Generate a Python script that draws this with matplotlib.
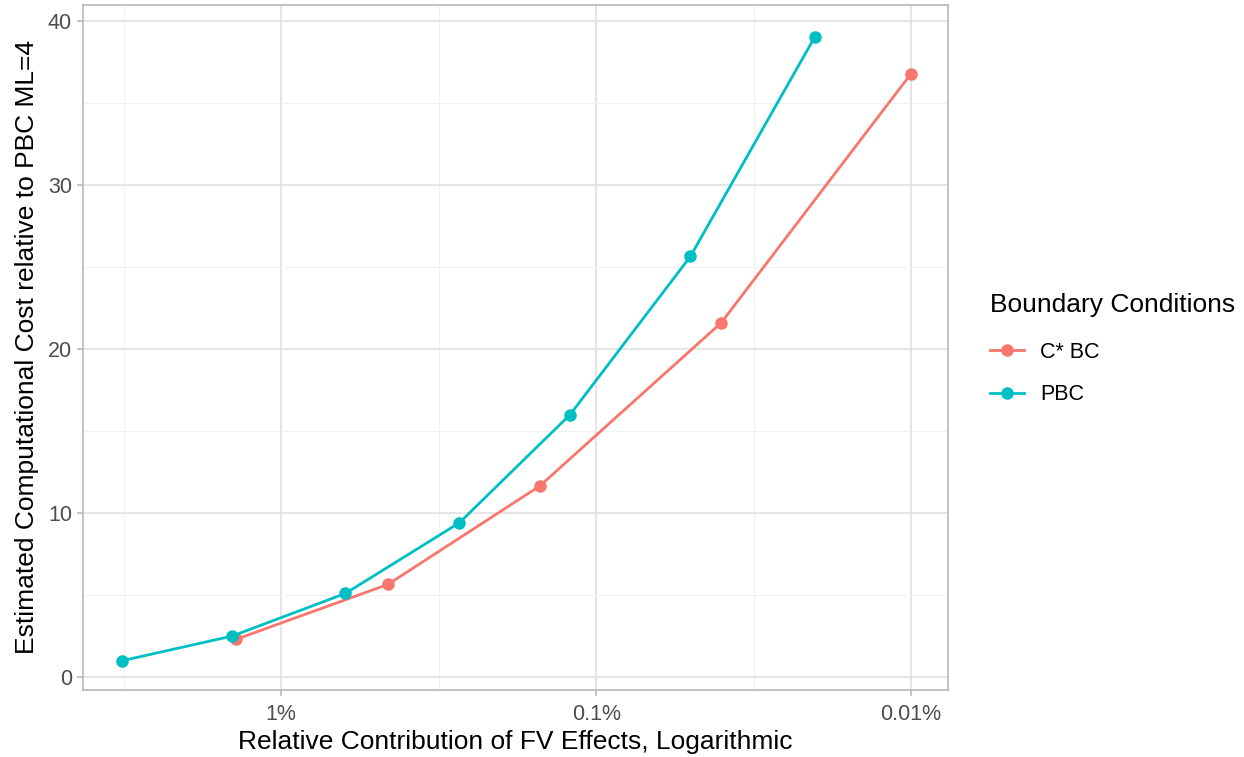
import matplotlib
matplotlib.use("Agg")
import matplotlib.pyplot as plt
import numpy as np

# Data (x in percent, y relative cost)
pbc_x = [3.19, 1.43, 0.625, 0.272, 0.121, 0.0502, 0.0202]
pbc_y = [1.0, 2.5, 5.1, 9.4, 16.0, 25.65, 39.05]
cbc_x = [1.39, 0.458, 0.151, 0.0401, 0.01]
cbc_y = [2.3, 5.65, 11.65, 21.6, 36.8]

x_ticks = [1, 0.1, 0.01]
x_tick_labels = ["1%", "0.1%", "0.01%"]
y_ticks = [0, 10, 20, 30, 40]

plt.rcParams['font.family'] = ['Liberation Sans', 'DejaVu Sans']

fig = plt.figure(figsize=(12.44, 7.57), dpi=100)
W, H = 1244, 757
ax = fig.add_axes([83 / W, 1 - 690 / H, (948 - 83) / W, (690 - 5) / H])

c_red = '#F8766D'
c_cyan = '#00BFC4'

ax.plot(cbc_x, cbc_y, color=c_red, lw=2, marker='o', ms=8, label='C* BC', zorder=3)
ax.plot(pbc_x, pbc_y, color=c_cyan, lw=2, marker='o', ms=8, label='PBC', zorder=4)

ax.set_xscale('log')
ax.set_xlim(10 ** 0.629, 10 ** -2.117)
ax.set_ylim(-0.79, 40.98)

ax.set_xticks(x_ticks)
ax.set_xticklabels(x_tick_labels)
ax.set_xticks([10 ** 0.5, 10 ** -0.5, 10 ** -1.5], minor=True)
ax.xaxis.set_minor_formatter(matplotlib.ticker.NullFormatter())
ax.set_yticks(y_ticks)
ax.set_yticks([5, 15, 25, 35], minor=True)

ax.grid(which='major', color='#dedede', lw=1.1, zorder=0)
ax.grid(which='minor', color='#efefef', lw=0.6, zorder=0)
ax.set_axisbelow(True)

for s in ax.spines.values():
    s.set_color('#b3b3b3')
    s.set_linewidth(1.1)

ax.tick_params(which='major', length=4, color='#b3b3b3', width=1.1,
               labelsize=15.5, labelcolor='#4d4d4d', pad=4)
ax.tick_params(axis='x', which='major', pad=6)
ax.tick_params(which='minor', length=0)

ax.set_xlabel('Relative Contribution of FV Effects, Logarithmic', fontsize=19, color='black', labelpad=4)
ax.set_ylabel('Estimated Computational Cost relative to PBC ML=4', fontsize=19, color='black', labelpad=6)

leg = fig.legend(handles=ax.get_lines(), labels=['C* BC', 'PBC'],
                 title='Boundary Conditions', loc='upper left',
                 bbox_to_anchor=(981 / W, 1 - 284 / H), frameon=False,
                 fontsize=15.5, title_fontsize=19, handlelength=1.6,
                 labelspacing=1.0, handletextpad=0.75, borderaxespad=0)
leg._legend_box.align = 'left'
leg._legend_box.sep = 18

fig.savefig('out.png', dpi=100)
